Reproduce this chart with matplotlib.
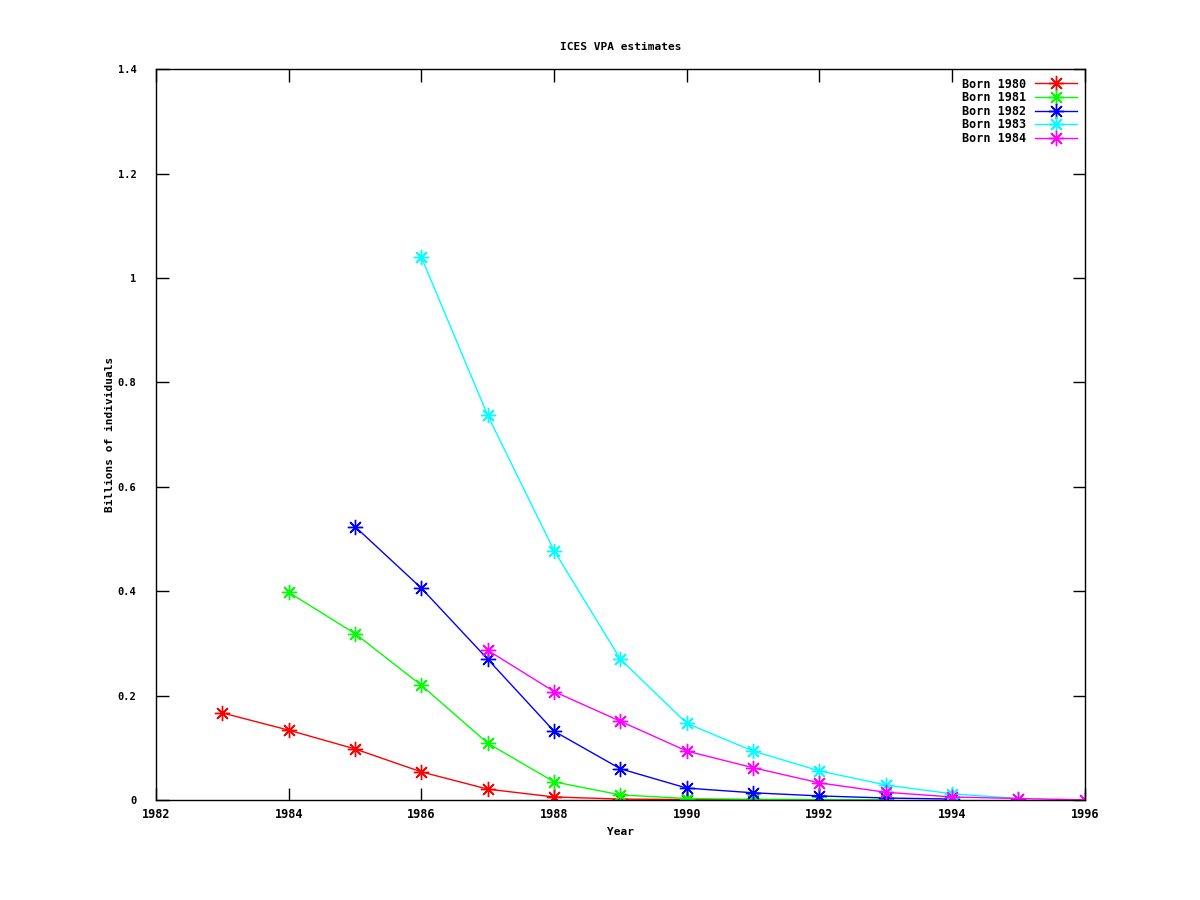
import matplotlib
matplotlib.use("Agg")
import matplotlib.pyplot as plt

# годы и оценки численности по поколениям (млрд особей)
years_1980 = [1983, 1984, 1985, 1986, 1987, 1988, 1989, 1990, 1991, 1992]
born_1980 = [0.167, 0.134, 0.098, 0.054, 0.021, 0.006, 0.002, 0.001, 0.0005, 0.0003]

years_1981 = [1984, 1985, 1986, 1987, 1988, 1989, 1990, 1991, 1992, 1993]
born_1981 = [0.398, 0.319, 0.220, 0.109, 0.035, 0.010, 0.003, 0.0015, 0.001, 0.0005]

years_1982 = [1985, 1986, 1987, 1988, 1989, 1990, 1991, 1992, 1993, 1994]
born_1982 = [0.524, 0.406, 0.270, 0.132, 0.060, 0.023, 0.014, 0.008, 0.004, 0.002]

years_1983 = [1986, 1987, 1988, 1989, 1990, 1991, 1992, 1993, 1994, 1995]
born_1983 = [1.040, 0.737, 0.478, 0.270, 0.147, 0.094, 0.056, 0.029, 0.012, 0.003]

years_1984 = [1987, 1988, 1989, 1990, 1991, 1992, 1993, 1994, 1995, 1996]
born_1984 = [0.287, 0.208, 0.151, 0.094, 0.062, 0.033, 0.015, 0.006, 0.003, 0.0005]

series = [
    ("Born 1980", years_1980, born_1980, "#ff0000"),
    ("Born 1981", years_1981, born_1981, "#00ff00"),
    ("Born 1982", years_1982, born_1982, "#0000ff"),
    ("Born 1983", years_1983, born_1983, "#00ffff"),
    ("Born 1984", years_1984, born_1984, "#ff00ff"),
]

x_ticks = list(range(1982, 1997, 2))
y_ticks = [0, 0.2, 0.4, 0.6, 0.8, 1.0, 1.2, 1.4]
y_tick_labels = ["0", "0.2", "0.4", "0.6", "0.8", "1", "1.2", "1.4"]

plt.rcParams["font.family"] = ["DejaVu Sans Mono"]
plt.rcParams["font.weight"] = "bold"
plt.rcParams["font.size"] = 8

fig = plt.figure(figsize=(12, 9), dpi=100)
ax = fig.add_axes([0.13, 0.111, 0.774, 0.812])

for label, xs, ys, color in series:
    ax.plot(xs, ys, color=color, linewidth=1, marker=(8, 2, 0),
            markersize=11, markeredgewidth=1, label=label)

ax.set_xlim(1982, 1996)
ax.set_ylim(0, 1.4)
ax.set_xticks(x_ticks)
ax.set_xticklabels([str(t) for t in x_ticks])
ax.set_yticks(y_ticks)
ax.set_yticklabels(y_tick_labels)
ax.tick_params(direction="in", length=9, width=1, top=True, right=True)
ax.tick_params(axis="y", pad=14, labelsize=7.5)
ax.tick_params(axis="x", pad=6, labelsize=8.5)
for sp in ax.spines.values():
    sp.set_linewidth(1)

ax.set_title("ICES VPA estimates", fontsize=8, fontweight="bold", pad=14)
ax.set_xlabel("Year", fontsize=8, fontweight="bold", labelpad=4)
ax.set_ylabel("Billions of individuals", fontsize=8, fontweight="bold")
ax.yaxis.set_label_coords(-0.044, 0.5)

ax.legend(loc="upper right", frameon=False, markerfirst=False,
          handlelength=3.5, labelspacing=0.05, fontsize=8.5,
          borderaxespad=0.3, handletextpad=0.8)

fig.savefig("out.png", dpi=100)
